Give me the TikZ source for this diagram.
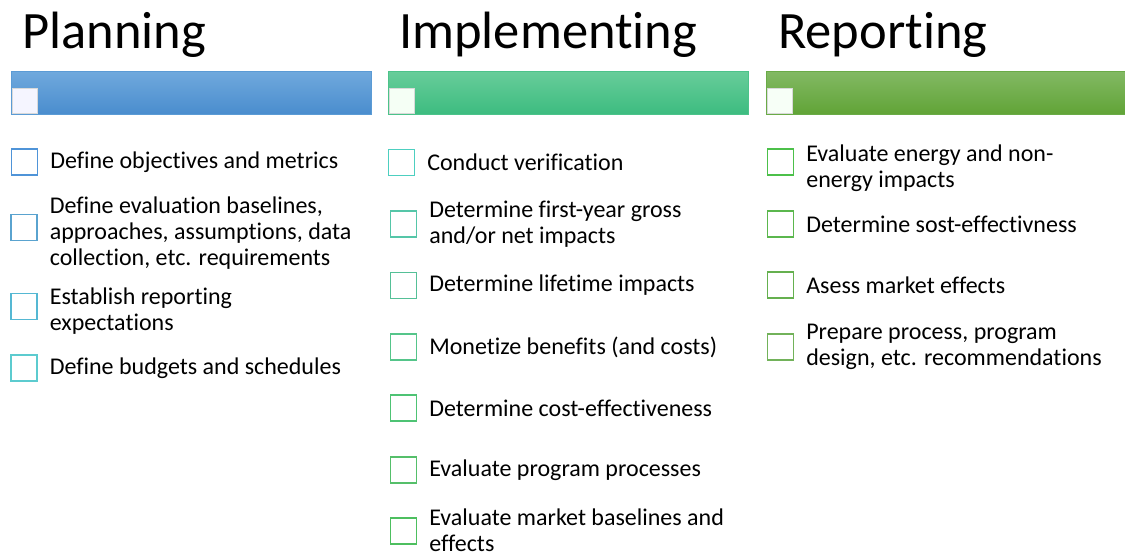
\documentclass[tikz,border=0pt]{standalone}
\usepackage{fontspec}
\setmainfont{Carlito}[Ligatures=NoCommon]
\usepackage{xcolor}
\usetikzlibrary{positioning}

\definecolor{planTop}{HTML}{70A9DD}
\definecolor{planBot}{HTML}{4A8DCE}
\definecolor{planEdge}{HTML}{5B9BD5}
\definecolor{implTop}{HTML}{68CD9A}
\definecolor{implBot}{HTML}{3DBC80}
\definecolor{implEdge}{HTML}{4CC38A}
\definecolor{reptTop}{HTML}{83B964}
\definecolor{reptBot}{HTML}{61A437}
\definecolor{reptEdge}{HTML}{6AAB47}
% checkbox outlines
\definecolor{pA}{HTML}{4F94D8}
\definecolor{pB}{HTML}{5AA3CF}
\definecolor{pC}{HTML}{55B8D3}
\definecolor{pD}{HTML}{5CCBCF}
\definecolor{iA}{HTML}{4DCFC0}
\definecolor{iB}{HTML}{55C6A8}
\definecolor{iC}{HTML}{55C097}
\definecolor{iD}{HTML}{55C58A}
\definecolor{iE}{HTML}{4EC374}
\definecolor{iF}{HTML}{55BF6A}
\definecolor{iG}{HTML}{4DBF5F}
\definecolor{rA}{HTML}{4CC04A}
\definecolor{rB}{HTML}{5BB74D}
\definecolor{rC}{HTML}{65B04F}
\definecolor{rD}{HTML}{72B25A}

\begin{document}
\begin{tikzpicture}[
    x=1pt, y=-1pt,
    node distance=12pt,
    title/.style={font=\fontsize{52.5}{60}\selectfont, inner sep=0, anchor=base west},
    bar/.style={rectangle, draw, minimum width=360pt, minimum height=43pt, inner sep=0, line width=0.8pt},
    tab/.style={rectangle, draw=white!70!gray, minimum size=25pt, inner sep=0, anchor=south west, xshift=1pt, yshift=1pt, line width=0.8pt},
    chk/.style={rectangle, draw, minimum size=26pt, inner sep=0, line width=1.2pt},
    item/.style={font=\fontsize{24}{26}\selectfont, align=left, inner sep=0}
]
\useasboundingbox (0,0) rectangle (1125,555);

% headings
\node[title] (plantitle) at (22,48) {Planning};
\node[title] (impltitle) at (399,48) {Implementing};
\node[title] (repttitle) at (778,48) {Reporting};

% coloured bars
\node[bar, top color=planTop, bottom color=planBot, draw=planEdge] (planbar) at (191,92.5) {};
\node[bar, top color=implTop, bottom color=implBot, draw=implEdge] (implbar) at (568,92.5) {};
\node[bar, minimum width=359pt, top color=reptTop, bottom color=reptBot, draw=reptEdge] (reptbar) at (945.5,92.5) {};
\node[tab, fill=blue!4!white] (plantab) at (planbar.south west) {};
\node[tab, fill=green!4!white] (impltab) at (implbar.south west) {};
\node[tab, fill=green!3!white] (repttab) at (reptbar.south west) {};

% planning
\node[chk, draw=pA] (p1) at (24.5,162) {};
\node[chk, draw=pB] (p2) at (24,227.5) {};
\node[chk, draw=pC] (p3) at (24,306.5) {};
\node[chk, draw=pD] (p4) at (24,368) {};
\node[item, right=of p1] (p1txt) {Define objectives and metrics};
\node[item, right=of p2, yshift=-6pt] (p2txt) {Define evaluation baselines,\\approaches, assumptions, data\\collection, etc. requirements};
\node[item, right=of p3, yshift=-5pt] (p3txt) {Establish reporting\\expectations};
\node[item, right=of p4] (p4txt) {Define budgets and schedules};

% implementing
\node[chk, draw=iA] (i1) at (401.5,162.5) {};
\node[chk, draw=iB] (i2) at (403.5,224) {};
\node[chk, draw=iC] (i3) at (403.5,285.5) {};
\node[chk, draw=iD] (i4) at (403.5,347) {};
\node[chk, draw=iE] (i5) at (403.5,408) {};
\node[chk, draw=iF] (i6) at (403.5,470) {};
\node[chk, draw=iG] (i7) at (403.5,531) {};
\node[item, right=of i1] (i1txt) {Conduct verification};
\node[item, right=of i2] (i2txt) {Determine first-year gross\\and/or net impacts};
\node[item, right=of i3] (i3txt) {Determine lifetime impacts};
\node[item, right=of i4] (i4txt) {Monetize benefits (and costs)};
\node[item, right=of i5] (i5txt) {Determine cost-effectiveness};
\node[item, right=of i6] (i6txt) {Evaluate program processes};
\node[item, right=of i7, yshift=1pt] (i7txt) {Evaluate market baselines and\\effects};

% reporting
\node[chk, draw=rA] (r1) at (780.5,162) {};
\node[chk, draw=rB] (r2) at (780.5,224) {};
\node[chk, draw=rC] (r3) at (780.5,285) {};
\node[chk, draw=rD] (r4) at (780.5,347) {};
\node[item, right=of r1, yshift=-6pt] (r1txt) {Evaluate energy and non-\\energy impacts};
\node[item, right=of r2] (r2txt) {Determine sost-effectivness};
\node[item, right=of r3] (r3txt) {Asess market effects};
\node[item, right=of r4] (r4txt) {Prepare process, program\\design, etc. recommendations};

\end{tikzpicture}
\end{document}
